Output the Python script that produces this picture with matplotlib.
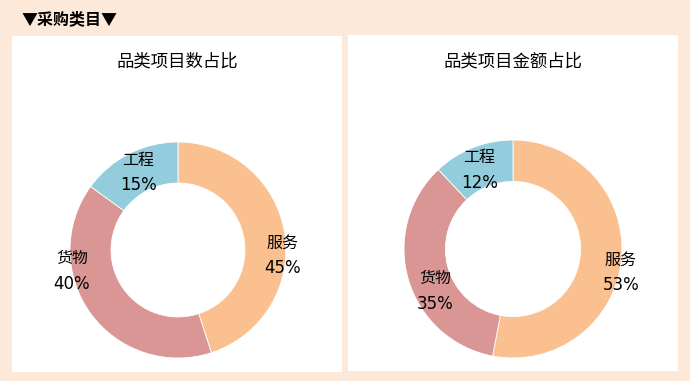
import numpy as np
import matplotlib
matplotlib.use('Agg')
import matplotlib.pyplot as plt
from matplotlib.patches import Rectangle

plt.rcParams['font.family'] = ['Noto Sans CJK SC', 'DejaVu Sans']

# data
categories = ['服务', '货物', '工程']
count_share = [45, 40, 15]
amount_share = [53, 35, 12]
chart_titles = ['品类项目数占比', '品类项目金额占比']
header = '▼采购类目▼'

colors = ['#FAC090', '#D99694', '#93CDDD']
bg = '#FDE9D9'

W, H = 690, 381
fig = plt.figure(figsize=(W / 100, H / 100), dpi=100)
fig.patch.set_facecolor(bg)

def px(x, y, w, h):
	# pixel box (top-left origin) -> figure fraction
	return [x / W, (H - y - h) / H, w / W, h / H]

# white panels
for box in [(12, 36, 330, 336), (348, 35, 330, 336)]:
	b = px(*box)
	fig.patches.append(Rectangle(b[:2], b[2], b[3],
		transform=fig.transFigure, facecolor='white', edgecolor='none', zorder=-5))

fig.text(22 / W, 1 - 19 / H, header, fontsize=11.5, fontweight='bold', va='center', ha='left')

# label polar positions (radius, angle in degrees) for each chart
label_pos = [
	[(0.97, -3), (1.0, 191), (0.81, 117)],
	[(1.01, -12), (0.81, 208), (0.79, 113)],
]
axes_boxes = [px(70, 142, 216, 216), px(404, 140, 218, 218)]
title_xy = [(177, 62), (513, 61)]

for i, vals in enumerate([count_share, amount_share]):
	ax = fig.add_axes(axes_boxes[i], zorder=2)
	ax.pie(vals, colors=colors, startangle=90, counterclock=False, radius=1.0,
		wedgeprops=dict(width=0.38, edgecolor='white', linewidth=0.6))
	ax.set_xlim(-1, 1)
	ax.set_ylim(-1, 1)
	ax.set_aspect('equal')
	ax.axis('off')
	for j, cat in enumerate(categories):
		r, a = label_pos[i][j]
		x = r * np.cos(np.radians(a))
		y = r * np.sin(np.radians(a))
		ax.text(x, y + 0.11, cat, ha='center', va='center', fontsize=11.5, color='black')
		ax.text(x, y - 0.12, '%d%%' % vals[j], ha='center', va='center', fontsize=12,
			color='black', family=['DejaVu Sans'])
	fig.text(title_xy[i][0] / W, 1 - title_xy[i][1] / H, chart_titles[i], ha='center',
		va='center', fontsize=12.5)

plt.savefig('out.png', dpi=100, facecolor=bg)
